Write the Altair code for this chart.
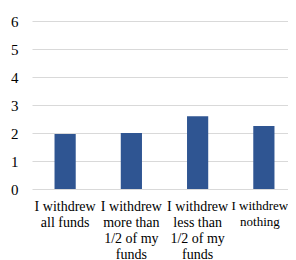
import altair as alt
import pandas as pd

categories = [
    "I withdrew\nall funds",
    "I withdrew\nmore than\n1/2 of my\nfunds",
    "I withdrew\nless than\n1/2 of my\nfunds",
    "I withdrew\nnothing",
]
values = [1.96, 2.0, 2.6, 2.25]
y_ticks = [0, 1, 2, 3, 4, 5, 6]

df = pd.DataFrame({"category": categories, "value": values})

FONT = "Liberation Serif"
LAST_TEST = "indexof(datum.value, 'nothing') >= 0"

chart = (
    alt.Chart(df)
    .mark_bar(color="#2F5592")
    .encode(
        x=alt.X(
            "category:N",
            sort=categories,
            title=None,
            scale=alt.Scale(paddingInner=0.68, paddingOuter=0.34, range=[0, 265]),
            axis=alt.Axis(
                labelAngle=0,
                labelExpr="split(datum.label, '\\n')",
                labelFont=FONT,
                labelFontSize={
                    "condition": {"test": LAST_TEST, "value": 13},
                    "value": 14,
                },
                labelColor="#000000",
                labelLineHeight=16,
                labelPadding=10,
                labelBaseline="top",
                labelOverlap=False,
                labelOffset={
                    "condition": {"test": LAST_TEST, "value": -4},
                    "value": 0,
                },
                ticks=False,
                domain=False,
                grid=False,
            ),
        ),
        y=alt.Y(
            "value:Q",
            title=None,
            scale=alt.Scale(domain=[0, 6], nice=False, zero=True),
            axis=alt.Axis(
                values=y_ticks,
                labelFont=FONT,
                labelFontSize=15,
                labelColor="#000000",
                labelPadding=14,
                ticks=False,
                domain=False,
                grid=True,
                gridColor="#d9d9d9",
                gridWidth=1,
            ),
        ),
    )
    .properties(
        width=256,
        height=168,
        autosize=alt.AutoSizeParams(type="none"),
        padding={"left": 24, "top": 13, "right": 0, "bottom": 71},
    )
    .configure_view(stroke=None)
)

chart.save("out.html", embed_options={"renderer": "svg", "actions": False})
